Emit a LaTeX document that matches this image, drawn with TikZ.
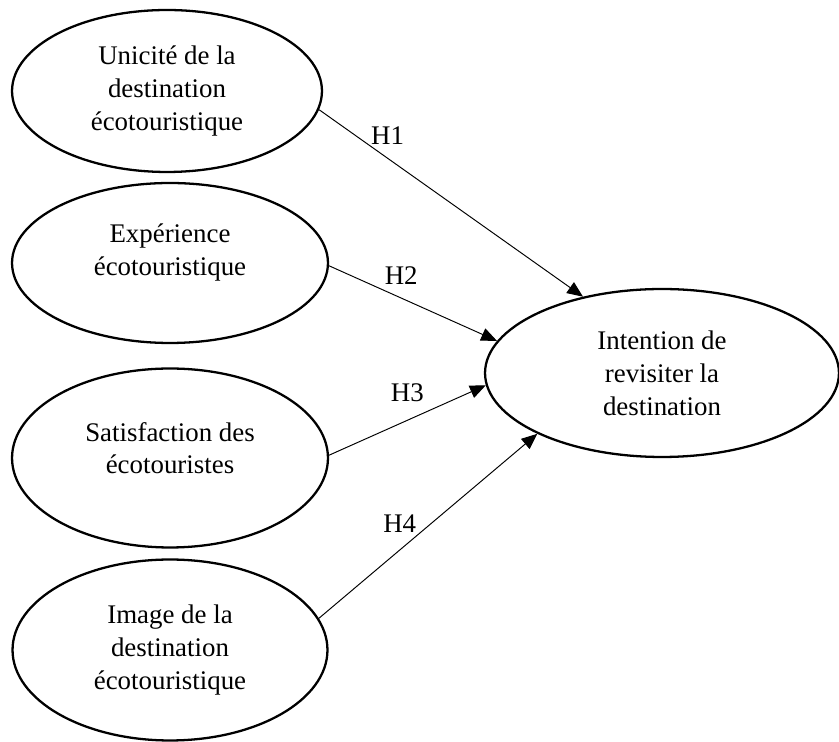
\documentclass[tikz,border=0pt]{standalone}
\usepackage{fontspec}
\setmainfont{Liberation Serif}
\usetikzlibrary{arrows.meta,shapes.geometric}
\tikzset{
    varbox/.style={draw, ellipse, line width=1.3pt, align=center, inner sep=0pt,
        font=\fontsize{15.3}{18.7}\selectfont},
    lien/.style={-{Triangle[length=9pt,width=7.5pt]}, line width=0.55pt},
    hypo/.style={font=\fontsize{15.3}{18.7}\selectfont}
}
\begin{document}
\begin{tikzpicture}[x=0.02cm, y=-0.02cm]
    \useasboundingbox (0,0) rectangle (839,742);
    % Variables explicatives
    \node[varbox, minimum width=6.2cm, minimum height=3.24cm] (unicite) at (167,91)
        {Unicité de la\\destination\\écotouristique};
    \node[varbox, minimum width=6.32cm, minimum height=3.2cm, text depth=15pt] (experience) at (170,263)
        {Expérience\\écotouristique};
    \node[varbox, minimum width=6.32cm, minimum height=3.58cm, text depth=11.4pt] (satisfaction) at (170,458)
        {Satisfaction des\\écotouristes};
    \node[varbox, minimum width=6.3cm, minimum height=3.62cm] (image) at (170,650)
        {Image de la\\destination\\écotouristique};
    % Variable expliquée
    \node[varbox, minimum width=7.08cm, minimum height=3.36cm] (intention) at (662,373)
        {Intention de\\revisiter la\\destination};
    % Hypothèses
    \draw[lien] (unicite.-7) -- node[hypo, pos=0.26, above=4pt] {H1} (intention.136);
    \draw[lien] (experience.-1) -- node[hypo, pos=0.43, above=4pt] {H2} (intention.169.5);
    \draw[lien] (satisfaction.1) -- node[hypo, pos=0.5, above=7pt] {H3} (intention.-176.7);
    \draw[lien] (image.12.2) -- node[hypo, pos=0.37, above=6.5pt] {H4} (intention.-154.2);
\end{tikzpicture}
\end{document}
